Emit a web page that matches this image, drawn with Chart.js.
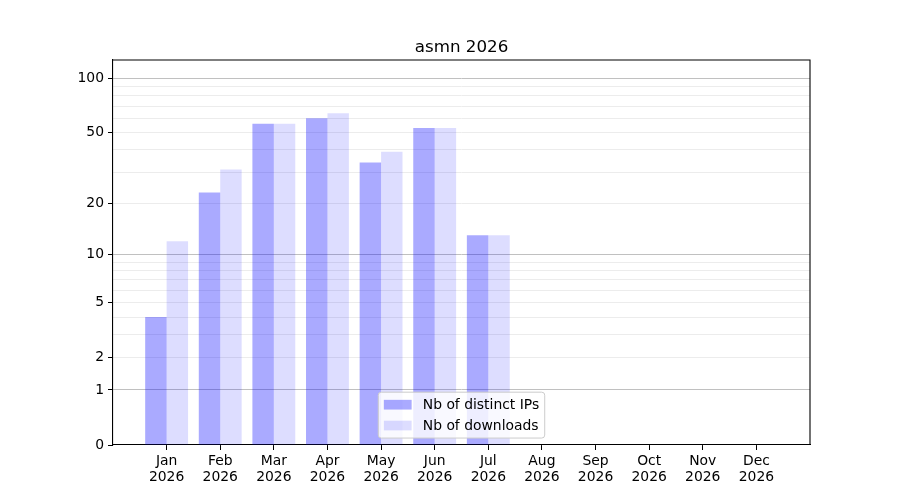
<!DOCTYPE html>
<html lang="en">
<head>
    <meta charset="UTF-8">
    <title>asmn 2026</title>
    <script src="https://cdn.jsdelivr.net/npm/chart.js"></script>
    <style>
        body { margin: 0; background: #ffffff; }
        #wrap { width: 900px; height: 500px; }
    </style>
</head>
<body>
    <div id="wrap"><canvas id="statsChart" width="900" height="500"></canvas></div>
    <script>
        // data
        const months = ['Jan', 'Feb', 'Mar', 'Apr', 'May', 'Jun', 'Jul', 'Aug', 'Sep', 'Oct', 'Nov', 'Dec'];
        const year = '2026';
        const distinctIPs = [4, 23, 56, 60, 34, 53, 13, 0, 0, 0, 0, 0];
        const downloads = [12, 31, 56, 64, 39, 53, 13, 0, 0, 0, 0, 0];
        const yTickLabels = [0, 1, 2, 5, 10, 20, 50, 100];
        const yMinorTicks = [3, 4, 6, 7, 8, 9, 30, 40, 60, 70, 80, 90];
        const yDarkLines = [1, 10, 100];
        const yMax = 126;

        // y axis is log10(1 + v)
        const tf = v => Math.log10(1 + v);
        const rawOf = t => Math.round(Math.pow(10, t) - 1);

        const toPoints = arr => arr.map((v, i) => ({ x: i, y: tf(v) }));

        Chart.defaults.font.family = 'DejaVu Sans';
        Chart.defaults.font.size = 13.9;
        Chart.defaults.color = '#000000';

        // top and right spines
        const framePlugin = {
            id: 'frame',
            afterDraw(chart) {
                const { ctx, chartArea: a } = chart;
                ctx.save();
                ctx.strokeStyle = '#000000';
                ctx.lineWidth = 1.1;
                ctx.beginPath();
                ctx.moveTo(a.left, a.top);
                ctx.lineTo(a.right, a.top);
                ctx.lineTo(a.right, a.bottom);
                ctx.stroke();
                ctx.restore();
            }
        };

        // legend at lower center inside the plot, matplotlib style
        const boxLegend = {
            id: 'boxLegend',
            afterDraw(chart) {
                const { ctx, chartArea: a } = chart;
                const fs = 13.9;
                const pad = 0.4 * fs, handle = 2 * fs, textPad = 0.8 * fs, spacing = 0.5 * fs;
                ctx.save();
                ctx.font = fs + 'px "DejaVu Sans"';
                const sets = chart.data.datasets;
                const tw = Math.max(...sets.map(d => ctx.measureText(d.label).width));
                const w = pad + handle + textPad + tw + pad;
                const h = pad * 2 + sets.length * fs + (sets.length - 1) * spacing;
                const x = (a.left + a.right) / 2 - w / 2;
                const y = a.bottom - 0.5 * fs - h;
                ctx.beginPath();
                ctx.roundRect(x, y, w, h, 3);
                ctx.fillStyle = 'rgba(255,255,255,0.8)';
                ctx.fill();
                ctx.strokeStyle = '#cccccc';
                ctx.lineWidth = 1;
                ctx.stroke();
                sets.forEach((d, i) => {
                    const cy = y + pad + i * (fs + spacing) + fs / 2;
                    ctx.fillStyle = d.backgroundColor;
                    ctx.fillRect(x + pad, cy - 0.35 * fs, handle, 0.7 * fs);
                    ctx.fillStyle = '#000000';
                    ctx.textBaseline = 'middle';
                    ctx.fillText(d.label, x + pad + handle + textPad, cy + 1);
                });
                ctx.restore();
            }
        };

        new Chart(document.getElementById('statsChart').getContext('2d'), {
            type: 'bar',
            data: {
                datasets: [
                    {
                        label: 'Nb of distinct IPs',
                        data: toPoints(distinctIPs),
                        backgroundColor: 'rgba(0,0,255,0.333)',
                        borderWidth: 0
                    },
                    {
                        label: 'Nb of downloads',
                        data: toPoints(downloads),
                        backgroundColor: 'rgba(0,0,255,0.133)',
                        borderWidth: 0
                    }
                ]
            },
            options: {
                responsive: false,
                animation: false,
                categoryPercentage: 0.8,
                barPercentage: 1.0,
                layout: { padding: { left: 0, right: 90, top: 0, bottom: 0 } },
                plugins: {
                    legend: { display: false },
                    tooltip: { enabled: false },
                    title: {
                        display: true,
                        fullSize: false,
                        text: 'asmn 2026',
                        color: '#000000',
                        font: { size: 16.7, weight: 'normal' },
                        padding: { top: 38, bottom: 2 }
                    }
                },
                scales: {
                    x: {
                        type: 'linear',
                        min: -1,
                        max: 12,
                        offset: false,
                        afterBuildTicks: s => { s.ticks = months.map((m, i) => ({ value: i })); },
                        afterFit: s => { s.height = 55; },
                        grid: { offset: false, drawOnChartArea: false, drawTicks: true, tickLength: 5, tickColor: '#000000', tickWidth: 1 },
                        border: { color: '#000000', width: 1.1 },
                        ticks: {
                            autoSkip: false,
                            maxRotation: 0,
                            padding: 4,
                            font: { lineHeight: 1.12 },
                            callback: v => [months[v], year]
                        }
                    },
                    y: {
                        type: 'linear',
                        min: 0,
                        max: tf(yMax),
                        afterBuildTicks: s => {
                            s.ticks = yTickLabels.concat(yMinorTicks).sort((a, b) => a - b).map(v => ({ value: tf(v) }));
                        },
                        afterFit: s => { s.width = 113; },
                        grid: {
                            color: c => {
                                const r = rawOf(c.tick.value);
                                if (r === 0) return 'rgba(0,0,0,0)';
                                return yDarkLines.includes(r) ? '#c0c0c0' : '#ececec';
                            },
                            lineWidth: 1,
                            tickLength: 5,
                            tickWidth: 1,
                            tickColor: c => yTickLabels.includes(rawOf(c.tick.value)) ? '#000000' : 'rgba(0,0,0,0)'
                        },
                        border: { color: '#000000', width: 1.1 },
                        ticks: {
                            autoSkip: false,
                            padding: 4,
                            callback: v => {
                                const r = rawOf(v);
                                return yTickLabels.includes(r) ? String(r) : '';
                            }
                        }
                    }
                }
            },
            plugins: [framePlugin, boxLegend]
        });
    </script>
</body>
</html>
